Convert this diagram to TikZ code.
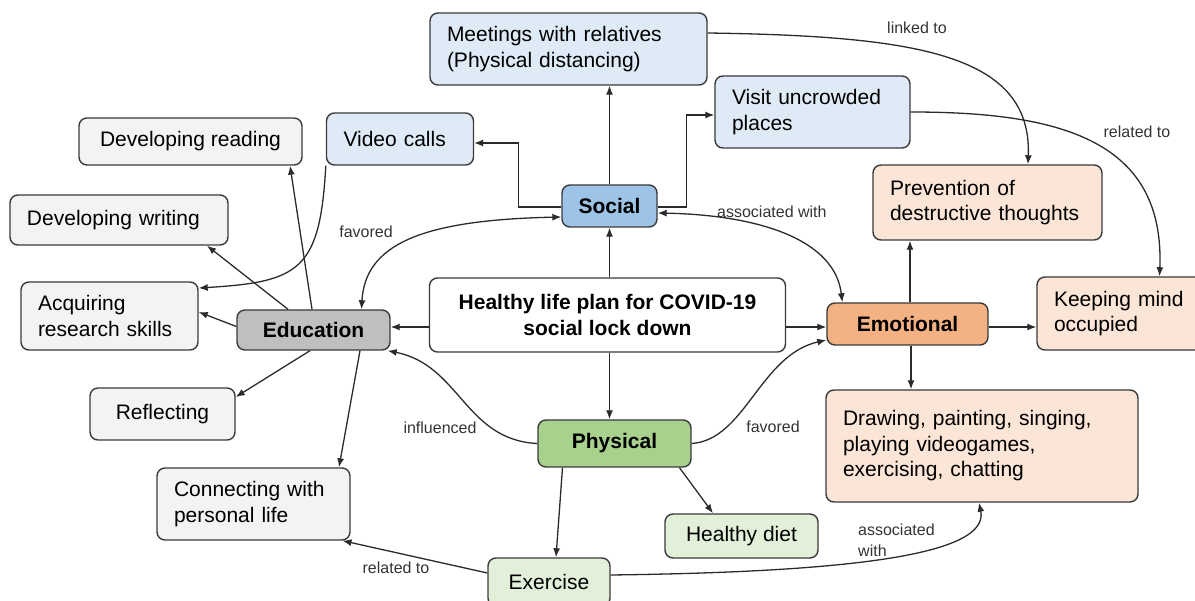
\documentclass[tikz,border=0pt]{standalone}
\usepackage{fontspec}
\setmainfont{Liberation Sans}
\usetikzlibrary{arrows.meta}
\definecolor{bd}{HTML}{3A3A3A}
\definecolor{ln}{HTML}{2B2B2B}
\definecolor{lb}{HTML}{333333}
\definecolor{gy}{HTML}{F1F3F4}
\definecolor{bl}{HTML}{DEEBF7}
\definecolor{blD}{HTML}{9DC3E6}
\definecolor{pc}{HTML}{FBE5D6}
\definecolor{pcD}{HTML}{F4B183}
\definecolor{gr}{HTML}{E2F0D9}
\definecolor{grD}{HTML}{A9D18E}
\definecolor{edD}{HTML}{BFBFBF}
\begin{document}
\begin{tikzpicture}[x=1pt,y=-1pt,
  box/.style={draw=bd, line width=1.4pt, rounded corners=8pt, inner xsep=0pt, inner ysep=0pt,
    font=\fontsize{21}{25.5}\selectfont, text=black, align=center},
  bbox/.style={box, font=\fontsize{21}{25.5}\selectfont\bfseries},
  ml/.style={inner xsep=17pt, align=left, text width=#1pt},
  dim/.style 2 args={minimum width=#1pt, minimum height=#2pt},
  arr/.style={draw=ln, line width=1.3pt, -{Latex[length=9pt,width=7pt]}},
  darr/.style={draw=ln, line width=1.3pt, {Latex[length=9pt,width=7pt]}-{Latex[length=9pt,width=7pt]}},
  lab/.style={font=\fontsize{16}{21}\selectfont, text=lb, inner sep=0pt}]
\useasboundingbox (0,0) rectangle (1195,601);
% nodes
\node[box, fill=bl, ml=243, minimum height=72pt] (meet) at (568.5,49) {Meetings with relatives\\(Physical distancing)};
\node[box, fill=bl, ml=113, minimum height=52pt] (vid) at (400,139) {Video calls};
\node[box, fill=bl, ml=161, minimum height=72pt] (vis) at (812.5,112) {Visit uncrowded\\places};
\node[box, fill=gy, dim={223}{47}] (read) at (190.5,141.5) {Developing reading};
\node[box, fill=gy, ml=184, minimum height=50pt] (writ) at (119,220) {Developing writing};
\node[box, fill=gy, ml=143, minimum height=68pt] (acq) at (109.5,316) {Acquiring\\research skills};
\node[bbox, fill=edD, dim={153}{40}] (edu) at (313.5,330) {Education};
\node[bbox, fill=blD, dim={95}{42}] (soc) at (609.5,206) {Social};
\node[bbox, fill=white, dim={356}{74}] (cen) at (607.5,315) {Healthy life plan for COVID-19\\social lock down};
\node[bbox, fill=pcD, dim={161}{42}] (emo) at (907.5,324) {Emotional};
\node[box, fill=pc, ml=195, minimum height=75pt] (prev) at (987.5,202.5) {Prevention of\\destructive thoughts};
\node[box, fill=pc, ml=139, minimum height=73pt] (keep) at (1123.5,313.5) {Keeping mind\\occupied};
\node[box, fill=gy, dim={145}{52}] (refl) at (162.5,414) {Reflecting};
\node[bbox, fill=grD, dim={153}{47}] (phy) at (614.5,443.5) {Physical};
\node[box, fill=pc, ml=278, minimum height=112pt] (draw) at (982,446) {Drawing, painting, singing,\\playing videogames,\\exercising, chatting};
\node[box, fill=gy, ml=159, minimum height=72pt] (conn) at (253.5,504) {Connecting with\\personal life};
\node[box, fill=gr, dim={153}{44}] (diet) at (741.5,536) {Healthy diet};
\node[box, fill=gr, dim={122}{48}] (exe) at (549,582) {Exercise};
% connectors from centre
\draw[arr] (soc.south |- cen.north) -- (soc.south);
\draw[arr] ([yshift=3]edu.east -| cen.west) -- ([yshift=3]edu.east);
\draw[arr] ([yshift=-3]emo.west -| cen.east) -- ([yshift=-3]emo.west);
\draw[arr] ([xshift=-5]phy.north |- cen.south) -- ([xshift=-5]phy.north);
% social
\draw[arr] (soc.north) -- (soc.north |- meet.south);
\draw[arr] ([yshift=-1]soc.west) -- ++(-43,0) |- ([yshift=-4]vid.east);
\draw[arr] ([yshift=-1]soc.east) -- ++(29,0) |- ([yshift=-3]vis.west);
% education
\draw[arr] ([xshift=-1.5]edu.north) -- ([xshift=99.5]read.south);
\draw[arr] ([xshift=-25.5]edu.north) -- ([xshift=88]writ.south);
\draw[arr] ([yshift=3.5]edu.west) -- ([yshift=4]acq.east);
\draw[arr] ([xshift=-3.5]edu.south) -- ([yshift=17]refl.east);
\draw[arr] ([xshift=46.5]edu.south) -- ([xshift=85.5]conn.north);
\draw[arr] (vid.south west) .. controls (320,270) and (300,282) .. ([yshift=28]acq.east);
% curved relations
\draw[darr] ([xshift=48]edu.north) .. controls (365,245) and (420,220) .. ([yshift=-11]soc.west);
\draw[darr] ([yshift=-7]soc.east) .. controls (760,215) and (835,240) .. ([xshift=16]emo.north west);
\draw[arr] ([yshift=16]meet.east) .. controls (920,36) and (1032,55) .. ([xshift=40.5]prev.north);
\draw[arr] (vis.east) .. controls (1060,112) and (1165,140) .. ([xshift=36]keep.north);
% emotional
\draw[arr] ([xshift=2.5]emo.north) -- ([xshift=2.5]emo.north |- prev.south);
\draw[arr] ([yshift=-3]emo.east) -- ([yshift=-3]emo.east -| keep.west);
\draw[arr] ([xshift=3.5]emo.south) -- ([xshift=3.5]emo.south |- draw.north);
% physical
\draw[arr] (phy.east) .. controls (745,440) and (760,355) .. ([yshift=-16]emo.west);
\draw[arr] (phy.west) .. controls (465,440) and (460,365) .. ([xshift=-3]edu.south east);
\draw[arr] ([xshift=-52]phy.south) -- ([xshift=7]exe.north);
\draw[arr] ([xshift=65]phy.south) -- ([xshift=-28.5]diet.north);
\draw[arr] ([yshift=9]exe.west) -- ([xshift=89]conn.south);
\draw[arr] ([yshift=7]exe.east) .. controls (850,572) and (990,555) .. ([xshift=-3]draw.south);
% labels
\node[lab] (l1) at (366,232) {favored};
\node[lab, anchor=west] (l2) at (717,212) {associated with};
\node[lab] (l3) at (917,28) {linked to};
\node[lab] (l4) at (1137,132) {related to};
\node[lab] (l5) at (773,427) {favored};
\node[lab] (l6) at (440,428) {influenced};
\node[lab] (l7) at (396,568) {related to};
\node[lab, anchor=west, align=left] (l8) at (858,540) {associated\\with};
\end{tikzpicture}
\end{document}
